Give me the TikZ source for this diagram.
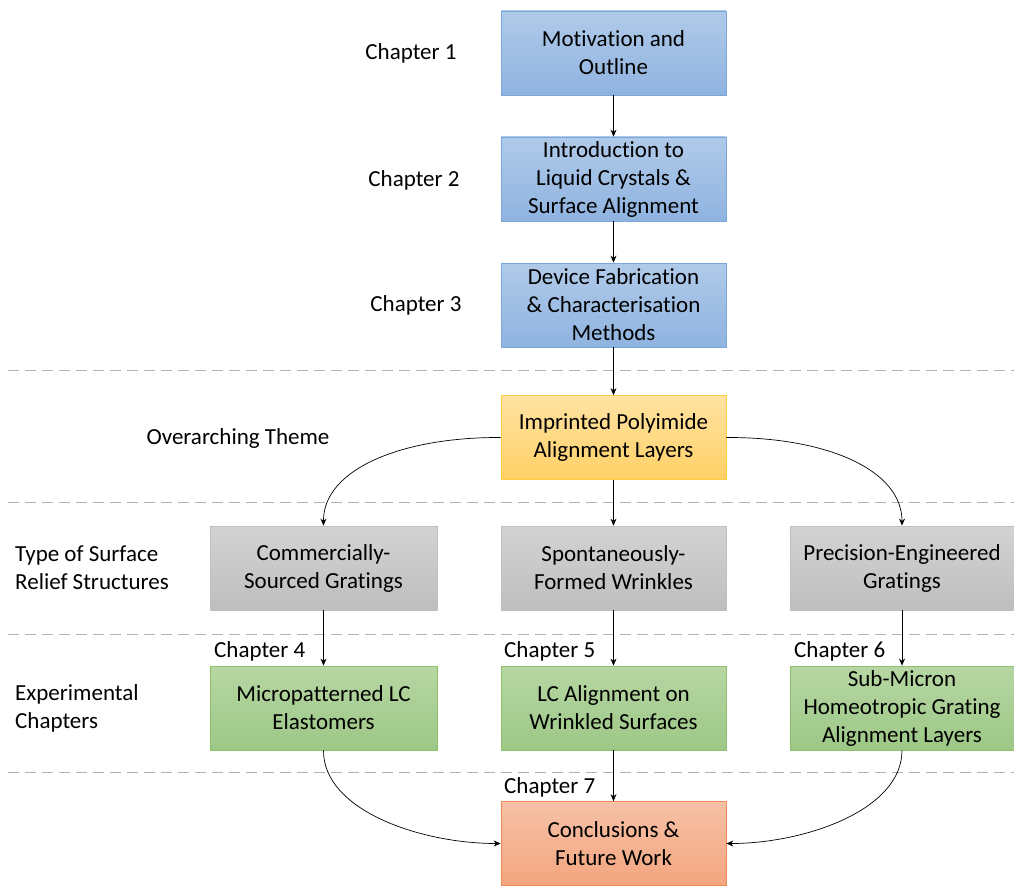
\documentclass[tikz,border=0pt]{standalone}
\usepackage{fontspec}
\setmainfont{Carlito}[Ligatures=NoCommon]
\usetikzlibrary{arrows.meta}
\begin{document}
\begin{tikzpicture}[x=1pt,y=-1pt,
  every node/.style={font=\fontsize{23}{28}\selectfont},
  box/.style={rectangle, minimum width=225pt, minimum height=84pt, inner sep=1pt, align=center, line width=0.8pt},
  bluebox/.style={box, top color=blueA, bottom color=blueB, draw=blueD},
  orangebox/.style={box, top color=orA, bottom color=orB, draw=orD},
  graybox/.style={box, top color=grA, bottom color=grB, draw=grD},
  greenbox/.style={box, top color=gnA, bottom color=gnB, draw=gnD},
  redbox/.style={box, top color=rdA, bottom color=rdB, draw=rdD},
  lbl/.style={align=left, inner sep=0pt},
  conn/.style={draw=black, line width=0.7pt, -{Stealth[length=7pt,width=6pt]}},
  sep/.style={draw=gray!60, line width=1pt, dash pattern=on 11pt off 6pt}
]
\definecolor{blueA}{HTML}{B0CAE9}
\definecolor{blueB}{HTML}{8FB3E0}
\definecolor{blueD}{HTML}{7AA6DA}
\definecolor{orA}{HTML}{FFE3A3}
\definecolor{orB}{HTML}{FFD066}
\definecolor{orD}{HTML}{FFCC44}
\definecolor{grA}{HTML}{D3D3D3}
\definecolor{grB}{HTML}{BEBEBE}
\definecolor{grD}{HTML}{BFBFBF}
\definecolor{gnA}{HTML}{B7D6A3}
\definecolor{gnB}{HTML}{9CC886}
\definecolor{gnD}{HTML}{8FC070}
\definecolor{rdA}{HTML}{F7C1A6}
\definecolor{rdB}{HTML}{F3A57F}
\definecolor{rdD}{HTML}{EE8B55}
\useasboundingbox (0,0) rectangle (1014,888);

% separators
\coordinate (s1a) at (8,370); \coordinate (s1b) at (1014,370);
\coordinate (s2a) at (8,502); \coordinate (s2b) at (1014,502);
\coordinate (s3a) at (8,634); \coordinate (s3b) at (1014,634);
\coordinate (s4a) at (8,772); \coordinate (s4b) at (1014,772);
\draw[sep] (s1a) -- (s1b);
\draw[sep] (s2a) -- (s2b);
\draw[sep] (s3a) -- (s3b);
\draw[sep] (s4a) -- (s4b);

% boxes
\node[bluebox] (mot) at (613.5,53) {Motivation and\\Outline};
\node[bluebox] (intro) at (613.5,179) {Introduction to\\Liquid Crystals \&\\Surface Alignment};
\node[bluebox] (dev) at (613.5,305) {Device Fabrication\\\& Characterisation\\Methods};
\node[orangebox] (imp) at (613.5,437.5) {Imprinted Polyimide\\Alignment Layers};
\node[graybox, minimum width=227pt] (com) at (323.5,568) {Commercially-\\Sourced Gratings};
\node[graybox] (spo) at (613.5,568) {Spontaneously-\\Formed Wrinkles};
\node[graybox, minimum width=224pt] (pre) at (902,568) {Precision-Engineered\\Gratings};
\node[greenbox, minimum width=227pt] (mic) at (323.5,708) {Micropatterned LC\\Elastomers};
\node[greenbox] (lca) at (613.5,708) {LC Alignment on\\Wrinkled Surfaces};
\node[greenbox, minimum width=224pt] (sub) at (902,708) {Sub-Micron\\Homeotropic Grating\\Alignment Layers};
\node[redbox] (con) at (613.5,843.5) {Conclusions \&\\Future Work};

% labels
\node (c1) at (411,53) {Chapter 1};
\node (c2) at (414,180) {Chapter 2};
\node (c3) at (416,305) {Chapter 3};
\node (ot) at (238,438) {Overarching Theme};
\node[lbl, anchor=west] (ts) at (15,568) {Type of Surface\\Relief Structures};
\node[lbl, anchor=west] (ec) at (15,708) {Experimental\\Chapters};
\node[lbl, anchor=west] (c4) at (214,651) {Chapter 4};
\node[lbl, anchor=west] (c5) at (504,651) {Chapter 5};
\node[lbl, anchor=west] (c6) at (794,651) {Chapter 6};
\node[lbl, anchor=west] (c7) at (504,787) {Chapter 7};

% connectors
\draw[conn] (mot) -- (intro);
\draw[conn] (intro) -- (dev);
\draw[conn] (dev) -- (imp);
\draw[conn] (imp) -- (spo);
\draw[conn] (com) -- (mic);
\draw[conn] (spo) -- (lca);
\draw[conn] (pre) -- (sub);
\draw[conn] (lca) -- (con);
\draw[conn] (imp.west) .. controls (400,437) and (323,470) .. (com.north);
\draw[conn] (imp.east) .. controls (827,437) and (902,470) .. (pre.north);
\draw[conn] (mic.south) .. controls (323,810) and (420,843.5) .. (con.west);
\draw[conn] (sub.south) .. controls (902,810) and (805,843.5) .. (con.east);
\end{tikzpicture}
\end{document}
